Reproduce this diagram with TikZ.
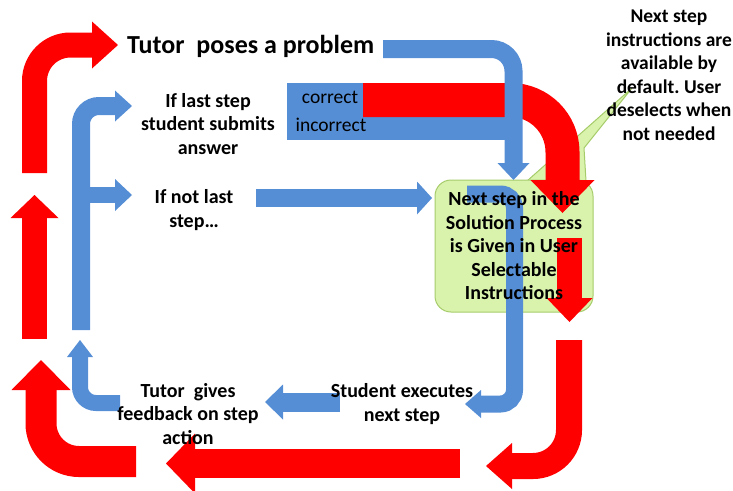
\documentclass[tikz,border=0pt]{standalone}
\usepackage{fontspec}
\setmainfont{Carlito}
\usetikzlibrary{arrows.meta}
\definecolor{ared}{HTML}{FF0000}
\definecolor{ablue}{HTML}{558ED5}
\definecolor{boxfill}{HTML}{D9F2AC}
\definecolor{boxline}{HTML}{A6CC6A}
\frenchspacing
\begin{document}
\begin{tikzpicture}[x=1pt,y=-1pt,
  redarrow/.style={draw=ared, line cap=butt},
  bluearrow/.style={draw=ablue, line cap=butt},
  lbl/.style={font=\fontsize{20}{23.5}\selectfont\bfseries, align=center, inner sep=0pt},
  plain/.style={font=\fontsize{19.5}{23.5}\selectfont, inner sep=0pt},
  tip/.style n args={2}{-{Triangle[length=#1,width=#2,line width=0pt]}}
]
\useasboundingbox (0,0) rectangle (733,490);

% callout pointer
\fill[boxfill, draw=boxline, line width=1pt] (527,181) -- (632,88) -- (584,148) -- (586,181) -- cycle;
% box
\node[draw=boxline, fill=boxfill, line width=1pt, rounded corners=16pt,
      minimum width=158pt, minimum height=132pt, inner sep=0pt] (box) at (514,246) {};

% correct / incorrect block
\fill[ablue] (287,83) rectangle (507,140);

% red arrows
\draw[redarrow, line width=34pt, rounded corners=52pt, tip={33pt}{64pt}]
  (363,100) -- (562.5,100) -- (562.5,213);
\draw[redarrow, line width=25pt, rounded corners=36pt, tip={26pt}{47pt}]
  (34.5,173) -- (34.5,45) -- (118,45);
\draw[redarrow, line width=25pt, tip={23pt}{48pt}]
  (34.5,339) -- (34.5,195);
\draw[redarrow, line width=31pt, rounded corners=38pt, tip={30pt}{59pt}]
  (136,461.5) -- (41,461.5) -- (41,360);
\draw[redarrow, line width=29pt, tip={29pt}{60pt}]
  (460,463.5) -- (166,463.5);
\draw[redarrow, line width=26pt, rounded corners=36pt, tip={26pt}{46pt}]
  (569,340) -- (569,466) -- (486,466);

% blue arrows
\draw[bluearrow, line width=18pt, rounded corners=22pt, tip={17pt}{32pt}]
  (383,49) -- (513.5,49) -- (513.5,180);
\draw[bluearrow, line width=17pt, rounded corners=14pt, tip={16pt}{28pt}]
  (467,194) -- (514.5,194) -- (514.5,404) -- (465,404);
\draw[bluearrow, line width=18pt, tip={15pt}{33pt}]
  (256,198) -- (432,198);
\draw[bluearrow, line width=18pt, rounded corners=18pt, tip={17pt}{31pt}]
  (81,330) -- (81,106) -- (132,106);
\draw[bluearrow, line width=16pt, tip={17pt}{32pt}]
  (81,195) -- (132,195);
\draw[bluearrow, line width=16pt, rounded corners=16pt, tip={17pt}{26pt}]
  (120,403) -- (80,403) -- (80,340);
\draw[bluearrow, line width=19pt, tip={18pt}{35pt}]
  (340,402) -- (265,402);

% red arrow inside the box
\draw[redarrow, line width=25pt, tip={24pt}{46pt}]
  (569.5,238) -- (569.5,322);

% texts
\node[lbl, font=\fontsize{26}{30}\selectfont\bfseries, anchor=west] (t1) at (127,46) {Tutor\ \ poses a problem};
\node[lbl] (t2) at (208,124) {If last step\\student submits\\answer};
\node[lbl] (t3) at (194,210) {If not last\\step\dots};
\node[plain] (t4) at (330,97) {correct};
\node[plain] (t5) at (331,125) {incorrect};
\node[lbl] (t6) at (box.center) {Next step in the\\Solution Process\\is Given in User\\Selectable\\Instructions};
\node[lbl, font=\fontsize{19.5}{23.5}\selectfont\bfseries] (t7) at (669,75) {Next step\\instructions are\\available by\\default. User\\deselects when\\not needed};
\node[lbl] (t8) at (188,414) {Tutor\ \ gives\\feedback on step\\action};
\node[lbl] (t9) at (402,404) {Student executes\\next step};
\end{tikzpicture}
\end{document}
